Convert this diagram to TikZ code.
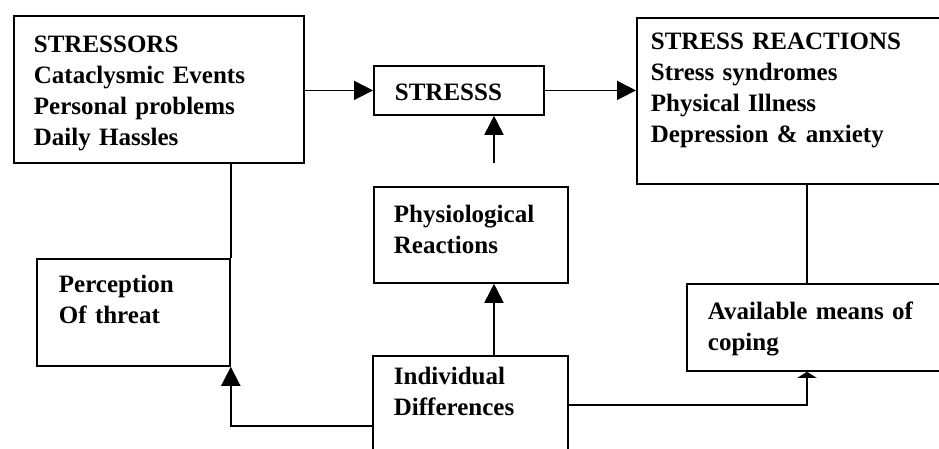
\documentclass[tikz,border=0pt]{standalone}
\usepackage{fontspec}
\setmainfont{Liberation Serif}
\usetikzlibrary{arrows.meta}

\begin{document}
\begin{tikzpicture}[x=1pt,y=-1pt,
  b/.style={rectangle,draw,line width=1.8pt,anchor=north west,align=left,inner ysep=0pt,inner xsep=20pt,font=\bfseries\fontsize{25}{31}\selectfont},
  arr/.style={-{Triangle[length=19pt,width=19pt]},line width=1.8pt},
  ln/.style={line width=1.8pt}
]
  \useasboundingbox (0,0) rectangle (939,448);
  \node[b,text width=250pt,text height=37pt,text depth=110pt](stressors) at (13,15) {STRESSORS\\Cataclysmic Events\\Personal problems\\Daily Hassles};
  \node[b,inner xsep=21pt,text width=128pt,text height=34.5pt,text depth=14.5pt](stresss) at (373,65) {STRESSS};
  \node[b,inner xsep=14pt,text width=292pt,text height=32pt,text depth=134pt](reactions) at (636,17) {STRESS REACTIONS\\Stress syndromes\\Physical Illness\\Depression \& anxiety};
  \node[b,text width=154pt,text height=35.5pt,text depth=60.5pt](physio) at (373,186) {Physiological\\Reactions};
  \node[b,inner xsep=22pt,text width=149pt,text height=33.5pt,text depth=73.5pt](percep) at (36,258) {Perception\\Of threat};
  \node[b,inner xsep=21pt,text width=222pt,text height=35.5pt,text depth=51.5pt](avail) at (686,283) {Available means of\\coping};
  \node[b,inner xsep=21pt,text width=153pt,text height=28.5pt,text depth=111.5pt](indiv) at (372,355) {Individual\\Differences};
  \coordinate (ph) at (494,163);
  \coordinate (cx) at (807,0);

  \draw[arr] (stressors.east |- stresss.west) -- (stresss.west);
  \draw[arr] (stresss.east) -- (stresss.east -| reactions.west);
  \draw[arr] (ph) -- (ph |- stresss.south);
  \draw[arr] (indiv.north -| ph) -- (ph |- physio.south);
  \draw[ln] (stressors.south -| percep.north east) -- (percep.north east);
  \draw[arr] (indiv.west) -| (percep.south east);
  \draw[ln] (reactions.south -| cx) -- (avail.north -| cx);
  \draw[arr,-{Triangle[length=6pt,width=19pt]}] ([yshift=21pt]indiv.east) -| (avail.south -| cx);
\end{tikzpicture}
\end{document}
